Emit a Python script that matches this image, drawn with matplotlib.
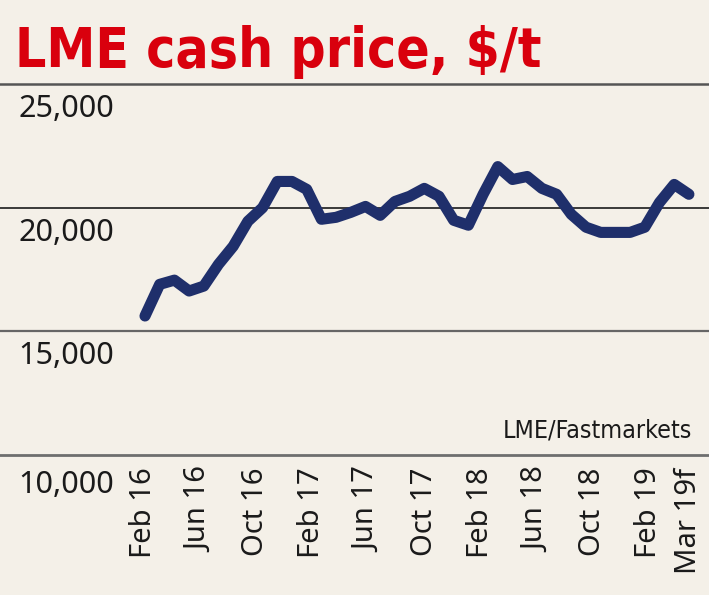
import matplotlib
matplotlib.use('Agg')
import matplotlib.pyplot as plt
import matplotlib.transforms as mtransforms
from matplotlib import font_manager as fm
import numpy as np

# LME cash price, $/t, monthly Feb 2016 - Mar 2019 (last point forecast)
prices = [15620, 16900, 17070, 16630, 16830, 17710, 18440, 19450, 20000, 21060,
          21060, 20740, 19530, 19610, 19810, 20050, 19690, 20250, 20460, 20780,
          20460, 19490, 19290, 20540, 21660, 21140, 21260, 20780, 20540, 19730,
          19210, 19000, 19000, 19000, 19210, 20210, 20940, 20540]
tick_labels = ["Feb 16", "Jun 16", "Oct 16", "Feb 17", "Jun 17", "Oct 17",
               "Feb 18", "Jun 18", "Oct 18", "Feb 19", "Mar 19f"]
y_levels = [10000, 15000, 20000, 25000]
y_labels = ["10,000", "15,000", "20,000", "25,000"]

bg = "#f4f0e8"
navy = "#1f2f6b"
red = "#d9000d"


def pick_font(bold):
    # prefer a narrow/condensed face if one is installed
    cands = []
    for f in fm.fontManager.ttflist:
        narrow = ('Narrow' in f.name or 'Condensed' in f.name
                  or str(f.stretch) in ('condensed', 'semi-condensed', 'extra-condensed'))
        if not narrow:
            continue
        w = f.weight if isinstance(f.weight, int) else (700 if 'bold' in str(f.weight) else 400)
        if bold and w < 600:
            continue
        if not bold and w > 500:
            continue
        if f.style != 'normal':
            continue
        cands.append(f)
    if cands:
        cands.sort(key=lambda f: (0 if 'DejaVu' in f.name or 'Liberation' in f.name else 1, f.name))
        return fm.FontProperties(fname=cands[0].fname)
    return fm.FontProperties(family='DejaVu Sans', weight='bold' if bold else 'normal')


def fit_width(txt, width_px, renderer):
    bb = txt.get_window_extent(renderer)
    txt.set_fontsize(txt.get_fontsize() * width_px / bb.width)


fig = plt.figure(figsize=(7.09, 5.95), dpi=100, facecolor=bg)
ax = fig.add_axes([0, 140 / 595, 1, 371 / 595])
ax.set_facecolor(bg)

x = np.arange(len(prices))
px_per_month = 14.7
ax.set_xlim(-145 / px_per_month, (709 - 145) / px_per_month)
ax.set_ylim(10000, 25000)

# horizontal rules
grid_colors = ["#6e6e6e", "#666666", "#2b2b2b", "#555555"]
grid_widths = [2.0, 1.6, 1.3, 1.8]
for lvl, c, w in zip(y_levels, grid_colors, grid_widths):
    ax.axhline(lvl, color=c, lw=w, zorder=1, clip_on=False)

ax.plot(x, prices, color=navy, lw=8, solid_joinstyle='round',
        solid_capstyle='round', zorder=3)

for s in ax.spines.values():
    s.set_visible(False)
ax.set_yticks([])

# x labels sit slightly tighter than the data spacing, as in the original
tick_pos = list(np.arange(len(tick_labels) - 1) * 3.82 - 0.1) + [len(prices) - 1]
ax.set_xticks(tick_pos)
ax.set_xticklabels(tick_labels, rotation=90, fontsize=21, family='Noto Sans',
                   color="#1a1a1a")
ax.tick_params(axis='x', length=0, pad=9)

# y labels under each rule, at the left edge
trans = mtransforms.blended_transform_factory(fig.transFigure, ax.transData)
for lvl, lab in zip(y_levels, y_labels):
    dy = -38 if lvl == 10000 else -33
    t = mtransforms.offset_copy(trans, fig=fig, y=dy, units='dots')
    ax.text(18 / 709, lvl, lab, transform=t, ha='left', va='baseline',
            fontsize=22, family='Noto Sans', color="#1a1a1a")

title = fig.text(15 / 709, 1 - 67 / 595, "LME cash price, $/t", ha='left',
                 va='baseline', fontsize=50, color=red,
                 fontproperties=pick_font(True))
title.set_fontsize(50)
source = fig.text(692 / 709, 1 - 438 / 595, "LME/Fastmarkets", ha='right',
                  va='baseline', color="#1a1a1a", fontproperties=pick_font(False))
source.set_fontsize(20)

renderer = fig.canvas.get_renderer()
fit_width(title, 528, renderer)
fit_width(source, 189, renderer)
title.set_fontsize(min(title.get_fontsize(), 52))

plt.savefig("out.png", dpi=100, facecolor=bg)
plt.close()
